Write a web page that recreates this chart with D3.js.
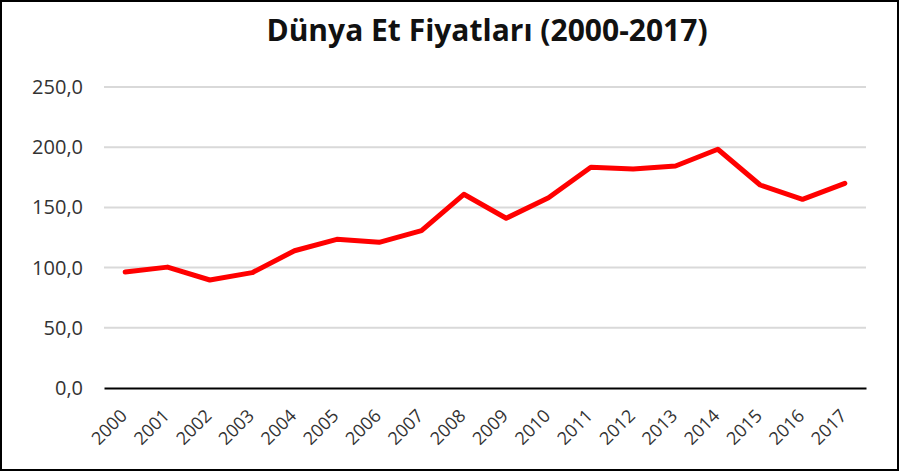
<!DOCTYPE html>
<html>
<head>
<meta charset="utf-8">
<script src="https://cdn.jsdelivr.net/npm/d3@7"></script>
<style>
  body { margin: 0; background: #fff; }
  svg { display: block; font-family: "Open Sans", Lato, sans-serif; }
</style>
</head>
<body>
<script>
// chart values
var years = ["2000","2001","2002","2003","2004","2005","2006","2007","2008",
             "2009","2010","2011","2012","2013","2014","2015","2016","2017"];
var prices = [96.3, 100.4, 89.7, 95.8, 114.0, 123.5, 121.0, 130.7, 160.9,
              141.0, 158.0, 183.3, 181.9, 184.4, 198.3, 168.6, 156.7, 170.0];
var yTicks = [0, 50, 100, 150, 200, 250];
var title = "Dünya Et Fiyatları (2000-2017)";

var W = 899, H = 471;
var m = {left: 104, right: 33, top: 87, bottom: 83};
var FONT = '"Open Sans", Lato, sans-serif';

var svg = d3.select('body').append('svg').attr('width', W).attr('height', H);

svg.append('rect')
	.attr('x', 1).attr('y', 1)
	.attr('width', W - 2).attr('height', H - 2)
	.attr('fill', '#fff').attr('stroke', '#000').attr('stroke-width', 2);

var x = d3.scaleBand().domain(years).range([m.left, W - m.right]);
var y = d3.scaleLinear().domain([0, 250]).range([H - m.bottom, m.top]);

// gridlines
svg.append('g').selectAll('line.grid')
	.data(yTicks.filter(function(d){ return d > 0; }))
	.enter().append('line')
	.attr('x1', m.left).attr('x2', W - m.right)
	.attr('y1', function(d){ return y(d); })
	.attr('y2', function(d){ return y(d); })
	.attr('stroke', '#d9d9d9').attr('stroke-width', 2);

// y axis labels
var fmt = function(d){ return d3.format('.1f')(d).replace('.', ','); };
var yAxis = svg.append('g')
	.attr('transform', 'translate(' + m.left + ',0)')
	.call(d3.axisLeft(y).tickValues(yTicks).tickFormat(fmt).tickSize(0).tickPadding(21));
yAxis.select('.domain').remove();
yAxis.selectAll('text').attr('font-size', 20).attr('fill', '#333')
	.style('font-family', FONT);

// x axis
var xAxis = svg.append('g')
	.attr('transform', 'translate(0,' + y(0) + ')')
	.call(d3.axisBottom(x).tickSize(0).tickPadding(0));
xAxis.select('.domain').attr('stroke', '#000').attr('stroke-width', 2);
xAxis.selectAll('text')
	.attr('font-size', 18).attr('fill', '#333')
	.style('font-family', FONT)
	.attr('text-anchor', 'end')
	.attr('dy', null)
	.attr('transform', 'translate(3,29) rotate(-45)');

// line
var line = d3.line()
	.x(function(d, i){ return x(years[i]) + x.bandwidth() / 2; })
	.y(function(d){ return y(d); });
svg.append('path')
	.datum(prices)
	.attr('d', line)
	.attr('fill', 'none')
	.attr('stroke', '#ff0000')
	.attr('stroke-width', 5)
	.attr('stroke-linecap', 'round')
	.attr('stroke-linejoin', 'round');

// title
svg.append('text')
	.attr('x', 487).attr('y', 41)
	.attr('text-anchor', 'middle')
	.attr('font-size', 30).attr('font-weight', 'bold')
	.attr('fill', '#111')
	.text(title);
</script>
</body>
</html>
